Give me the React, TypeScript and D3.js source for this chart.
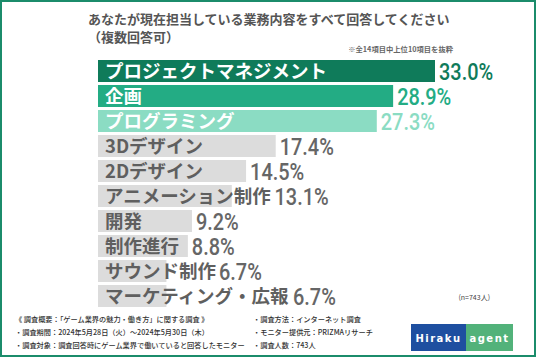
import React from "react";
import * as d3 from "d3";

const categories = [
  "プロジェクトマネジメント",
  "企画",
  "プログラミング",
  "3Dデザイン",
  "2Dデザイン",
  "アニメーション制作",
  "開発",
  "制作進行",
  "サウンド制作",
  "マーケティング・広報",
];
const values = [33.0, 28.9, 27.3, 17.4, 14.5, 13.1, 9.2, 8.8, 6.7, 6.7];
const barColors = ["#0f7b5a", "#23ac84", "#8bdcc3"];
const labelColors = ["#ffffff", "#ffffff", "#ffffff"];
const valueColors = ["#0f7b5a", "#23ac84", "#8bdcc3"];
const footerLeft = [
  "《 調査概要：「ゲーム業界の魅力・働き方」に関する調査 》",
  "・調査期間：2024年5月28日（火）～2024年5月30日（木）",
  "・調査対象：調査回答時にゲーム業界で働いていると回答したモニター",
];
const footerRight = [
  "・調査方法：インターネット調査",
  "・モニター提供元：PRIZMAリサーチ",
  "・調査人数：743人",
];

const W = 536;
const H = 357;
const FONT = "'Noto Sans CJK JP', 'Noto Sans', sans-serif";
const NUMFONT = "Roboto, 'Noto Sans', sans-serif";

function textWidth(s: string, size: number) {
  let w = 0;
  for (const ch of s) {
    w += /[\x00-\x7f]/.test(ch) ? size * 0.6 : size;
  }
  return w;
}

export default function App() {
  const x = d3.scaleLinear().domain([0, 33.0]).range([98, 435]);
  const y = d3
    .scaleBand<string>()
    .domain(categories)
    .range([59, 308])
    .paddingInner(0.12)
    .paddingOuter(0.04);
  const labelSize = 18.5;
  const labelX = 105;
  const numScale = 0.83;

  return (
    <svg
      width={W}
      height={H}
      style={{ position: "fixed", left: 0, top: 0 }}
      fontFamily={FONT}
    >
      <rect x={0} y={0} width={W} height={H} fill="#ffffff" />
      <rect
        x={1}
        y={1}
        width={W - 2}
        height={H - 2}
        fill="none"
        stroke="#1b8c6b"
        strokeWidth={2}
      />
      <text x={88} y={24} fontSize={13} fontWeight={700} fill="#555555">
        あなたが現在担当している業務内容をすべて回答してください
      </text>
      <text x={88} y={42} fontSize={13} fontWeight={700} fill="#555555">
        （複数回答可）
      </text>
      <text x={453} y={52} fontSize={7.3} fontWeight={700} fill="#666666" textAnchor="end">
        ※全14項目中上位10項目を抜粋
      </text>

      {categories.map((c, i) => {
        const y0 = y(c)!;
        const bh = y.bandwidth();
        const barEnd = x(values[i]);
        const labelEnd = labelX + textWidth(c, labelSize);
        const vx = Math.max(barEnd + 4, labelEnd + 3);
        const fill = i < 3 ? barColors[i] : "#dcdcdc";
        const lc = i < 3 ? labelColors[i] : "#5f5f5f";
        const vc = i < 3 ? valueColors[i] : "#666666";
        return (
          <g key={c}>
            <rect x={x(0)} y={y0} width={barEnd - x(0)} height={bh} fill={fill} />
            <text
              x={labelX}
              y={y0 + bh / 2 + 6.5}
              fontSize={labelSize}
              fontWeight={700}
              fill={lc}
            >
              {c}
            </text>
            <text
              transform={`translate(${vx},${y0 + bh / 2 + 8.5}) scale(${numScale},1)`}
              fontFamily={NUMFONT}
              fontSize={24}
              fontWeight={500}
              fill={vc}
            >
              {values[i].toFixed(1) + "%"}
            </text>
          </g>
        );
      })}

      <text x={490} y={300} fontSize={7} fill="#444444" textAnchor="end">
        (n=743人)
      </text>

      {footerLeft.map((t, i) => (
        <text key={t} x={15} y={322 + i * 13} fontSize={7.2} fontWeight={500} fill="#333333">
          {t}
        </text>
      ))}
      {footerRight.map((t, i) => (
        <text key={t} x={253} y={322 + i * 13} fontSize={7.2} fontWeight={500} fill="#333333">
          {t}
        </text>
      ))}

      <rect x={411} y={324} width={55} height={27} fill="#1e4fa0" />
      <rect x={466} y={324} width={47} height={27} fill="#52b27a" />
      <text
        x={438.5}
        y={341.5}
        fontFamily="'DejaVu Sans', sans-serif"
        fontSize={10}
        fontWeight={700}
        fill="#ffffff"
        textAnchor="middle"
        letterSpacing={1.5}
      >
        Hiraku
      </text>
      <text
        x={489.5}
        y={341.5}
        fontFamily="'DejaVu Sans', sans-serif"
        fontSize={10}
        fontWeight={700}
        fill="#ffffff"
        textAnchor="middle"
        letterSpacing={1.5}
      >
        agent
      </text>
    </svg>
  );
}
